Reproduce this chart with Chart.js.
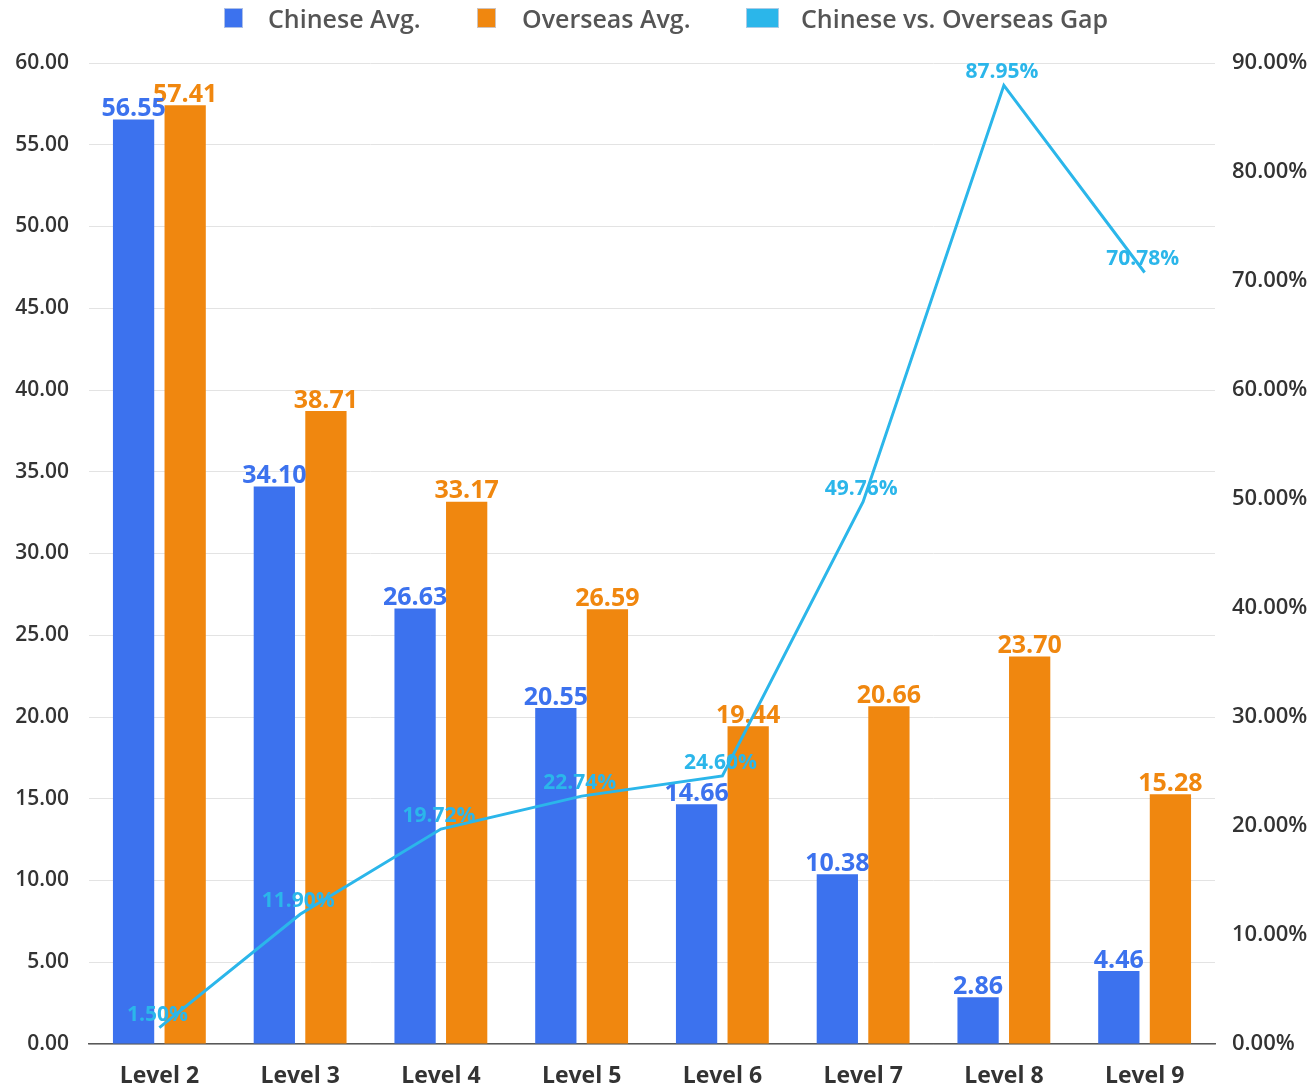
<!DOCTYPE html>
<html>
<head>
<meta charset="utf-8">
<script src="https://cdn.jsdelivr.net/npm/chart.js@4.4.1/dist/chart.umd.min.js"></script>
<style>
  html, body { margin: 0; padding: 0; background: #fff; }
  #wrap { position: relative; width: 1312px; height: 1088px; }
  #myChart { position: absolute; left: 0; top: 0; }
  .legend { position: absolute; top: 0; left: 0; width: 1312px; height: 40px;
    font-family: "Open Sans", "Noto Sans", sans-serif; font-weight: 600; font-size: 25px; color: #555; }
  .legend .item { position: absolute; top: 1px; height: 34px; line-height: 34px; }
  .legend .box { position: absolute; top: 8px; height: 20px; box-sizing: border-box; border: 1px solid rgba(200,210,230,0.8); }
</style>
</head>
<body>
<div id="wrap">
  <canvas id="myChart" width="1312" height="1088"></canvas>
  <div class="legend">
    <div class="box" style="left:224px;width:19px;background:#3c72ee;"></div>
    <div class="item" style="left:268px;">Chinese Avg.</div>
    <div class="box" style="left:477px;width:19px;background:#f0870f;"></div>
    <div class="item" style="left:522px;">Overseas Avg.</div>
    <div class="box" style="left:746px;width:33px;background:#2bb6ea;"></div>
    <div class="item" style="left:801px;">Chinese vs. Overseas Gap</div>
  </div>
</div>
<script>
// data
var levels = ['Level 2', 'Level 3', 'Level 4', 'Level 5', 'Level 6', 'Level 7', 'Level 8', 'Level 9'];
var chineseAvg = [56.55, 34.10, 26.63, 20.55, 14.66, 10.38, 2.86, 4.46];
var overseasAvg = [57.41, 38.71, 33.17, 26.59, 19.44, 20.66, 23.70, 15.28];
var gapPct = [1.50, 11.90, 19.72, 22.74, 24.60, 49.76, 87.95, 70.78];

var blue = '#3c72ee';
var orange = '#f0870f';
var cyan = '#2bb6ea';
var fontFamily = '"Open Sans", "Noto Sans", sans-serif';

// value labels: bars above the bar, line labels just above each point (line drawn over them)
var valueLabels = {
  id: 'valueLabels',
  beforeDatasetDraw: function(chart, args) {
    if (chart.data.datasets[args.index].type === 'line') drawLabels(chart, args.index);
  },
  afterDatasetDraw: function(chart, args) {
    if (chart.data.datasets[args.index].type !== 'line') drawLabels(chart, args.index);
  }
};

function drawLabels(chart, idx) {
  var ds = chart.data.datasets[idx];
  var meta = chart.getDatasetMeta(idx);
  var c = chart.ctx;
  c.save();
  c.textAlign = 'center';
  c.fillStyle = ds.labelColor;
  if (ds.type === 'line') {
    c.font = 'bold 21px ' + fontFamily;
    c.textBaseline = 'middle';
    meta.data.forEach(function(pt, i) {
      c.fillText(ds.data[i].toFixed(2) + '%', pt.x - 2, pt.y - 13);
    });
  } else {
    c.font = 'bold 25px ' + fontFamily;
    c.textBaseline = 'bottom';
    meta.data.forEach(function(bar, i) {
      c.fillText(ds.data[i].toFixed(2), bar.x, bar.y + 2);
    });
  }
  c.restore();
}

var ctx = document.getElementById('myChart').getContext('2d');

var myChart = new Chart(ctx, {
  type: 'bar',
  data: {
    labels: levels,
    datasets: [{
      type: 'line',
      label: 'Chinese vs. Overseas Gap',
      data: gapPct,
      yAxisID: 'y1',
      borderColor: cyan,
      labelColor: cyan,
      borderWidth: 3,
      pointRadius: 0,
      tension: 0,
      order: 0
    }, {
      label: 'Chinese Avg.',
      data: chineseAvg,
      backgroundColor: blue,
      labelColor: blue,
      yAxisID: 'y',
      order: 1
    }, {
      label: 'Overseas Avg.',
      data: overseasAvg,
      backgroundColor: orange,
      labelColor: orange,
      yAxisID: 'y',
      order: 1
    }]
  },
  options: {
    responsive: false,
    animation: false,
    categoryPercentage: 0.733,
    barPercentage: 0.8,
    layout: { padding: { top: 63, left: 0, right: 0, bottom: 0 } },
    plugins: {
      legend: { display: false },
      tooltip: { enabled: false }
    },
    scales: {
      x: {
        grid: { display: false, drawTicks: false },
        border: { display: true, color: '#595959', width: 1.5 },
        ticks: {
          padding: 19,
          color: '#333',
          font: { family: fontFamily, size: 23, weight: 'bold' }
        },
        afterFit: function(axis) { axis.height = 44; }
      },
      y: {
        position: 'left',
        min: 0,
        max: 60,
        grid: { color: '#e3e3e3', lineWidth: 1, drawTicks: false },
        border: { display: false },
        ticks: {
          stepSize: 5,
          padding: 20,
          color: '#333',
          font: { family: fontFamily, size: 21, weight: 600 },
          callback: function(value) { return value.toFixed(2); }
        },
        afterFit: function(axis) { axis.width = 89; }
      },
      y1: {
        position: 'right',
        min: 0,
        max: 90,
        grid: { display: false, drawTicks: false },
        border: { display: false },
        ticks: {
          stepSize: 10,
          padding: 17,
          color: '#333',
          font: { family: fontFamily, size: 22, weight: 600 },
          callback: function(value) { return value.toFixed(2) + '%'; }
        },
        afterFit: function(axis) { axis.width = 97; }
      }
    }
  },
  plugins: [valueLabels]
});
</script>
</body>
</html>
